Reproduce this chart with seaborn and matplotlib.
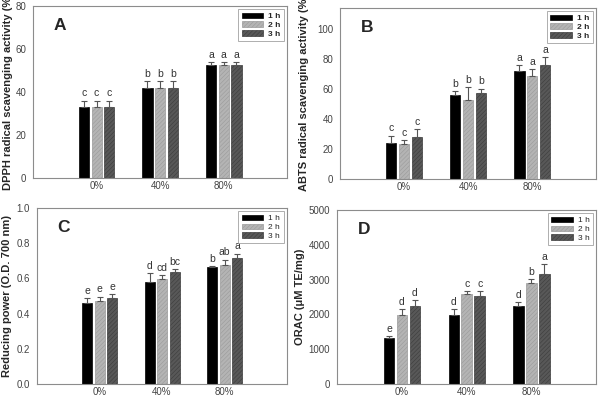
import numpy as np
import pandas as pd
import matplotlib
matplotlib.use("Agg")
import matplotlib.pyplot as plt
import seaborn as sns

# data
levels = ["0%", "40%", "80%"]
times = ["1 h", "2 h", "3 h"]

dpph_mean = [[33, 33, 33], [42, 42, 42], [52.7, 52.7, 52.7]]
dpph_err = [[3, 3, 3], [3, 3, 3], [1.4, 1.4, 1.4]]
dpph_sig = [["c", "c", "c"], ["b", "b", "b"], ["a", "a", "a"]]

abts_mean = [[24.1, 23.2, 28.1], [56.2, 52.7, 57.1], [72.2, 68.4, 76.2]]
abts_err = [[4.9, 2.7, 5.4], [2.3, 8.5, 3.2], [4.0, 5.2, 5.1]]
abts_sig = [["c", "c", "c"], ["b", "b", "b"], ["a", "a", "a"]]

rp_mean = [[0.462, 0.472, 0.488], [0.582, 0.596, 0.636], [0.664, 0.674, 0.715]]
rp_err = [[0.027, 0.025, 0.022], [0.048, 0.022, 0.02], [0.006, 0.034, 0.027]]
rp_sig = [["e", "e", "e"], ["d", "cd", "bc"], ["b", "ab", "a"]]

orac_mean = [[1330, 1983, 2251], [1983, 2577, 2538], [2251, 2902, 3170]]
orac_err = [[40, 163, 172], [163, 105, 144], [96, 115, 269]]
orac_sig = [["e", "d", "d"], ["d", "c", "c"], ["d", "b", "a"]]

panels = [
    ("A", dpph_mean, dpph_err, dpph_sig, "DPPH radical scavenging activity (%)",
     (0, 80), [0, 20, 40, 60, 80], True, [0.055, 0.552, 0.423, 0.433], -0.08),
    ("B", abts_mean, abts_err, abts_sig, "ABTS radical scavenging activity (%)",
     (0, 114), [0, 20, 40, 60, 80, 100], True, [0.566, 0.549, 0.426, 0.431], -0.12),
    ("C", rp_mean, rp_err, rp_sig, "Reducing power (O.D. 700 nm)",
     (0, 1.0), [0.0, 0.2, 0.4, 0.6, 0.8, 1.0], False, [0.0616, 0.0327, 0.416, 0.443], -0.1),
    ("D", orac_mean, orac_err, orac_sig, "ORAC (\u03bcM TE/mg)",
     (0, 5000), [0, 1000, 2000, 3000, 4000, 5000], False, [0.561, 0.0327, 0.431, 0.438], None),
]

fills = ["#000000", "#b4b4b4", "#585858"]
hatch_cols = ["#000000", "#9a9a9a", "#3c3c3c"]
hatches = ["", "////////", "////////"]

sns.set_style("white")
plt.rcParams["font.family"] = ["Liberation Sans", "DejaVu Sans"]
plt.rcParams["hatch.linewidth"] = 0.4

fig = plt.figure(figsize=(6.01, 3.97), dpi=100)

for tag, mean, err, sig, ylab, ylim, yticks, bold_leg, pos, lab_x in panels:
    ax = fig.add_axes(pos)
    df = pd.DataFrame({
        "level": np.repeat(levels, 3),
        "time": times * 3,
        "value": np.ravel(mean),
    })
    sns.barplot(data=df, x="level", y="value", hue="time", order=levels,
                hue_order=times, palette=fills, width=0.6, gap=0.2,
                errorbar=None, linewidth=0.5, ax=ax)

    bars = list(ax.containers)
    for k, cont in enumerate(bars):
        for i, p in enumerate(cont.patches):
            p.set_hatch(hatches[k])
            p.set_edgecolor(hatch_cols[k])
            x = p.get_x() + p.get_width() / 2
            top = mean[i][k] + err[i][k]
            ax.errorbar(x, mean[i][k], yerr=[[0], [err[i][k]]], fmt="none",
                        ecolor="#555555", elinewidth=0.8, capsize=2.5, capthick=0.8)
            ax.text(x, top + (ylim[1] - ylim[0]) * 0.012, sig[i][k], ha="center",
                    va="bottom", fontsize=7.5, color="#333333")

    ax.set_xlim(-1, 3)
    ax.set_ylim(*ylim)
    ax.set_yticks(yticks)
    if tag == "C":
        ax.set_yticklabels([f"{t:.1f}" for t in yticks])
    ax.set_xlabel("")
    ax.set_ylabel(ylab, fontsize=8, fontweight="bold", labelpad=3)
    if lab_x is not None:
        ax.yaxis.set_label_coords(lab_x, 0.5)
    for s in ax.spines.values():
        s.set_color("#8c8c8c")
        s.set_linewidth(0.8)
    ax.tick_params(axis="y", direction="out", length=3, width=0.6, color="#8c8c8c",
                   labelsize=7, labelcolor="#444444", pad=2)
    ax.tick_params(axis="x", length=0, labelsize=7, labelcolor="#444444", pad=2)

    ax.text(0.08, 0.93, tag, transform=ax.transAxes, fontsize=12.5,
            fontweight="bold", va="top", ha="left")

    leg = ax.legend(bars, times, loc="upper right",
                    frameon=True, fancybox=False, handlelength=2.6,
                    handleheight=0.6, handletextpad=0.6, borderaxespad=0.4,
                    labelspacing=0.15, borderpad=0.4,
                    prop={"weight": "bold" if bold_leg else "normal", "size": 6})
    leg.get_frame().set_edgecolor("#999999")
    leg.get_frame().set_linewidth(0.7)

fig.savefig("out.png", dpi=100)
